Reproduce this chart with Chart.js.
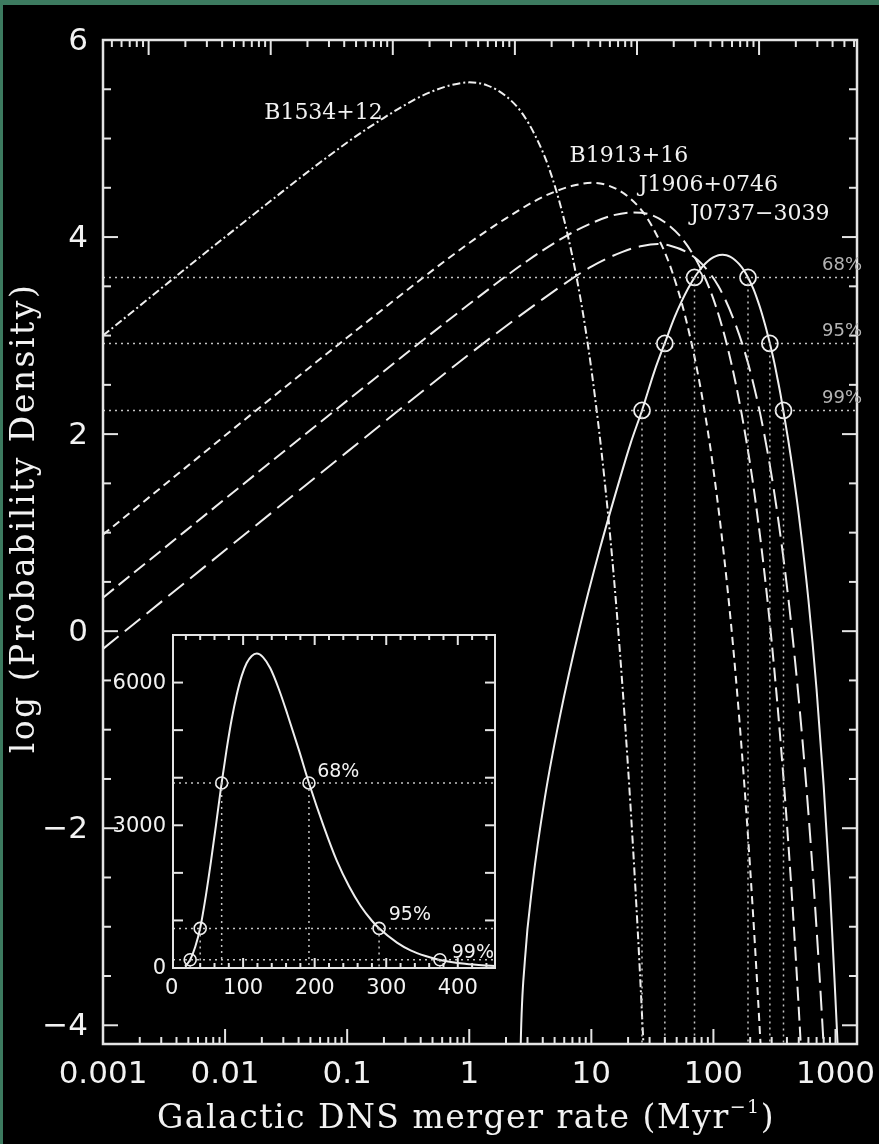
<!DOCTYPE html>
<html>
<head>
<meta charset="utf-8">
<script src="https://cdn.jsdelivr.net/npm/chart.js@4.4.0/dist/chart.umd.min.js"></script>
<style>
  html, body { margin: 0; padding: 0; background: #000; }
  #wrap { position: relative; width: 879px; height: 1144px; background: #000; overflow: hidden; }
  #main { position: absolute; left: 0; top: 0; }
  #inset { position: absolute; left: 100px; top: 620px; }
  .band-top { position: absolute; left: 0; top: 0; width: 879px; height: 5px; background: #3c7a5f; }
  .band-left { position: absolute; left: 0; top: 0; width: 3px; height: 1144px; background: #3c7a5f; }
</style>
</head>
<body>
<div id="wrap">
  <canvas id="main" width="879" height="1144"></canvas>
  <canvas id="inset" width="420" height="390"></canvas>
  <div class="band-top"></div>
  <div class="band-left"></div>
</div>
<script>
// axis limits
const X_MIN = 0.001, X_MAX = 1500;
const TOP_MIN = 0.000423, TOP_MAX = 634;   // top axis ticks sit offset in the original
const Y_MIN = -4.19, Y_MAX = 6.0;

const xTickLabels = ["0.001", "0.01", "0.1", "1", "10", "100", "1000"];
const xTickValues = [0.001, 0.01, 0.1, 1, 10, 100, 1000];
const yTickValues = [6, 4, 2, 0, -2, -4];

// per-pulsar rate distributions, log10 of probability density
const b1534Rate = [0.001, 0.01, 0.1, 0.2, 0.35, 0.5, 0.7, 1, 1.4, 2, 2.7, 3.5, 4.5, 6, 8, 10, 13, 16, 20, 24, 28];
const b1534Log  = [3.00, 4.00, 4.96, 5.21, 5.39, 5.48, 5.54, 5.57, 5.54, 5.43, 5.26, 5.02, 4.70, 4.17, 3.43, 2.66, 1.47, 0.26, -1.39, -3.04, -4.71];

const b1913Rate = [0.001, 0.1, 1, 2, 3.5, 5, 7, 10, 14, 20, 27, 35, 45, 60, 80, 100, 130, 160, 200, 240, 270];
const b1913Log  = [0.98, 2.98, 3.94, 4.19, 4.37, 4.46, 4.52, 4.55, 4.52, 4.41, 4.24, 4.00, 3.68, 3.15, 2.41, 1.64, 0.45, -0.77, -2.41, -4.06, -5.32];

const j1906Rate = [0.001, 0.1, 1, 3, 6, 10, 15, 22, 30, 40, 55, 75, 100, 130, 170, 220, 280, 350, 430, 500, 560];
const j1906Log  = [0.34, 2.34, 3.32, 3.76, 4.00, 4.14, 4.22, 4.25, 4.23, 4.15, 3.99, 3.73, 3.37, 2.89, 2.21, 1.34, 0.26, -1.03, -2.51, -3.83, -4.96];

const j0737Rate = [0.001, 0.1, 1, 4, 10, 18, 26, 35, 45, 60, 80, 110, 150, 200, 260, 330, 420, 520, 620, 720, 800, 860];
const j0737Log  = [-0.18, 1.82, 2.81, 3.37, 3.70, 3.85, 3.91, 3.93, 3.91, 3.85, 3.73, 3.50, 3.13, 2.64, 2.01, 1.24, 0.23, -0.92, -2.08, -3.26, -4.21, -4.92];

// combined distribution
const totalRate = [2.58, 2.64, 2.85, 3.31, 4.16, 5.52, 8.05, 11.75, 17.1, 21, 26, 33, 40, 48, 55, 62, 70, 77, 84, 91, 98, 105, 112, 119, 128, 138, 150, 162, 178, 192, 213, 231, 248, 264, 280, 290, 315, 334, 355, 375, 410, 452, 500, 600, 700, 800, 900, 1000, 1040, 1080];
const totalLog  = [-5.0, -4.19, -3.354, -2.552, -1.692, -0.870, 0.044, 0.836, 1.543, 1.909, 2.24, 2.645, 2.925, 3.184, 3.349, 3.477, 3.59, 3.663, 3.719, 3.759, 3.788, 3.807, 3.817, 3.82, 3.815, 3.799, 3.768, 3.727, 3.661, 3.59, 3.471, 3.352, 3.235, 3.117, 2.997, 2.921, 2.728, 2.57, 2.399, 2.226, 1.94, 1.592, 1.186, 0.319, -0.595, -1.568, -2.607, -3.744, -4.19, -4.65];

// confidence levels
const levelNames = ["68%", "95%", "99%"];
const levelLog   = [3.59, 2.92, 2.24];
const levelLow   = [70, 40, 26];
const levelHigh  = [192, 290, 375];

const pulsarNames = ["B1534+12", "B1913+16", "J1906+0746", "J0737\u22123039"];
const pulsarLabelRate = [0.064, 20.3, 91, 240];
const pulsarLabelLog  = [5.26, 4.82, 4.53, 4.23];

// inset: linear density
const insetRate = [19, 22, 26, 33, 40, 48, 55, 62, 70, 77, 84, 91, 98, 105, 112, 119, 128, 138, 150, 162, 178, 192, 213, 231, 248, 264, 280, 290, 315, 334, 355, 375, 410, 452];
const insetDensity = [45, 89, 174, 442, 840, 1528, 2234, 3000, 3890, 4600, 5230, 5740, 6140, 6410, 6560, 6610, 6530, 6300, 5860, 5330, 4580, 3890, 2960, 2250, 1718, 1310, 993, 834, 535, 372, 251, 168, 87, 40];
const insetLevel = [3890, 832, 174];
const insetXTicks = [0, 100, 200, 300, 400];
const insetYTicks = [0, 3000, 6000];
const insetLabelRate = [233, 333, 421];
const insetLabelDensity = [4110, 1110, 315];

const LINE = "#efefef";
const DOT = "#c4c4c4";

function pts(xs, ys) { return xs.map((x, i) => ({ x: x, y: ys[i] })); }

function curve(xs, ys, dash) {
  return {
    data: pts(xs, ys),
    borderColor: LINE,
    borderWidth: 2,
    borderDash: dash,
    pointRadius: 0,
    cubicInterpolationMode: "monotone",
    fill: false
  };
}

function dotted(data) {
  return { data: data, borderColor: DOT, borderWidth: 1.5, borderDash: [2, 4], pointRadius: 0, tension: 0 };
}

function seg(ctx, x1, y1, x2, y2) {
  ctx.beginPath(); ctx.moveTo(x1, y1); ctx.lineTo(x2, y2); ctx.stroke();
}

// main chart datasets
const mainSets = [];
levelLog.forEach((v, i) => {
  mainSets.push(dotted([{ x: X_MIN, y: v }, { x: X_MAX, y: v }]));
  mainSets.push(dotted([{ x: levelLow[i], y: v }, { x: levelLow[i], y: Y_MIN }]));
  mainSets.push(dotted([{ x: levelHigh[i], y: v }, { x: levelHigh[i], y: Y_MIN }]));
});
mainSets.push(curve(b1534Rate, b1534Log, [8, 3, 2, 3]));
mainSets.push(curve(b1913Rate, b1913Log, [8, 5]));
mainSets.push(curve(j1906Rate, j1906Log, [14, 6]));
mainSets.push(curve(j0737Rate, j0737Log, [20, 8]));
mainSets.push(curve(totalRate, totalLog, []));
mainSets.push({
  data: levelLog.flatMap((v, i) => [{ x: levelLow[i], y: v }, { x: levelHigh[i], y: v }]),
  showLine: false,
  pointRadius: 8,
  pointBorderWidth: 1.8,
  pointBorderColor: LINE,
  pointBackgroundColor: "rgba(0,0,0,0)"
});

const mainAxes = {
  id: "mainAxes",
  afterDraw(chart) {
    const { ctx, chartArea: a, scales } = chart;
    ctx.save();
    ctx.strokeStyle = "#e4e4e4";
    ctx.lineWidth = 2;
    // decade and minor ticks, bottom and top
    for (let d = -4; d <= 3; d++) {
      for (let k = 1; k <= 9; k++) {
        const v = k * Math.pow(10, d);
        const len = k === 1 ? 15 : 7;
        if (v >= scales.x.min && v <= scales.x.max) {
          const px = scales.x.getPixelForValue(v);
          seg(ctx, px, a.bottom, px, a.bottom - len);
        }
        if (v >= scales.xTop.min && v <= scales.xTop.max) {
          const px = scales.xTop.getPixelForValue(v);
          seg(ctx, px, a.top, px, a.top + len);
        }
      }
    }
    for (let v = -4; v <= 6; v += 0.5) {
      const py = scales.y.getPixelForValue(v);
      const len = v % 2 === 0 ? 15 : 8;
      seg(ctx, a.left, py, a.left + len, py);
      seg(ctx, a.right, py, a.right - len, py);
    }
    ctx.lineWidth = 2.5;
    ctx.strokeRect(a.left, a.top, a.right - a.left, a.bottom - a.top);

    // tick labels
    ctx.fillStyle = "#f2f2f2";
    ctx.font = "31px 'DejaVu Sans'";
    ctx.textAlign = "center";
    ctx.textBaseline = "middle";
    xTickValues.forEach((v, i) => {
      ctx.fillText(xTickLabels[i], scales.x.getPixelForValue(v), a.bottom + 31);
    });
    ctx.textAlign = "right";
    yTickValues.forEach(v => {
      const txt = v < 0 ? "\u2212" + Math.abs(v) : String(v);
      ctx.fillText(txt, a.left - 15, scales.y.getPixelForValue(v) + 2);
    });

    // axis titles
    ctx.textBaseline = "alphabetic";
    ctx.letterSpacing = "1.5px";
    const t1 = "Galactic DNS merger rate (Myr", t2 = "\u22121", t3 = ")";
    ctx.font = "33px 'DejaVu Serif'";
    const w1 = ctx.measureText(t1).width, w3 = ctx.measureText(t3).width;
    ctx.font = "19px 'DejaVu Serif'";
    const w2 = ctx.measureText(t2).width;
    const xs = 466 - (w1 + w2 + w3) / 2;
    const yb = 1128;
    ctx.textAlign = "left";
    ctx.font = "33px 'DejaVu Serif'";
    ctx.fillText(t1, xs, yb);
    ctx.font = "19px 'DejaVu Serif'";
    ctx.fillText(t2, xs + w1, yb - 15);
    ctx.font = "33px 'DejaVu Serif'";
    ctx.fillText(t3, xs + w1 + w2, yb);

    ctx.save();
    ctx.letterSpacing = "2.5px";
    ctx.translate(34, 518);
    ctx.rotate(-Math.PI / 2);
    ctx.textAlign = "center";
    ctx.fillText("log (Probability Density)", 0, 0);
    ctx.restore();
    ctx.letterSpacing = "0px";

    // curve names
    ctx.font = "22px 'DejaVu Serif'";
    ctx.textAlign = "center";
    ctx.textBaseline = "middle";
    pulsarNames.forEach((n, i) => {
      ctx.fillText(n, scales.x.getPixelForValue(pulsarLabelRate[i]), scales.y.getPixelForValue(pulsarLabelLog[i]));
    });

    // level names
    ctx.fillStyle = "#b4b4b4";
    ctx.font = "18px 'DejaVu Sans'";
    levelNames.forEach((n, i) => {
      ctx.fillText(n, scales.x.getPixelForValue(1130), scales.y.getPixelForValue(levelLog[i]) - 12);
    });
    ctx.restore();
  }
};

new Chart(document.getElementById("main"), {
  type: "line",
  data: { datasets: mainSets },
  options: {
    responsive: false,
    animation: false,
    events: [],
    layout: { padding: { left: 103, right: 22, top: 40, bottom: 100 } },
    plugins: { legend: { display: false }, tooltip: { enabled: false } },
    scales: {
      x: { type: "logarithmic", min: X_MIN, max: X_MAX, display: false },
      xTop: { type: "logarithmic", position: "top", min: TOP_MIN, max: TOP_MAX, display: false },
      y: { type: "linear", min: Y_MIN, max: Y_MAX, display: false }
    }
  },
  plugins: [mainAxes]
});

// inset chart
const insetSets = [];
insetLevel.forEach((v, i) => {
  insetSets.push(dotted([{ x: 2, y: v }, { x: 452, y: v }]));
  insetSets.push(dotted([{ x: levelLow[i], y: v }, { x: levelLow[i], y: 0 }]));
  insetSets.push(dotted([{ x: levelHigh[i], y: v }, { x: levelHigh[i], y: 0 }]));
});
insetSets.push(curve(insetRate, insetDensity, []));
insetSets.push({
  data: insetLevel.flatMap((v, i) => [{ x: levelLow[i], y: v }, { x: levelHigh[i], y: v }]),
  showLine: false,
  pointRadius: 6,
  pointBorderWidth: 1.6,
  pointBorderColor: LINE,
  pointBackgroundColor: "rgba(0,0,0,0)"
});

const insetAxes = {
  id: "insetAxes",
  beforeDatasetsDraw(chart) {
    const { ctx, chartArea: a } = chart;
    ctx.save();
    ctx.fillStyle = "#000";
    ctx.fillRect(a.left, a.top, a.right - a.left, a.bottom - a.top);
    ctx.restore();
  },
  afterDraw(chart) {
    const { ctx, chartArea: a, scales } = chart;
    ctx.save();
    ctx.strokeStyle = "#e4e4e4";
    ctx.lineWidth = 2;
    for (let v = 0; v <= 450; v += 20) {
      if (v <= scales.x.min || v >= scales.x.max) continue;
      const px = scales.x.getPixelForValue(v);
      const len = v % 100 === 0 ? 10 : 5;
      seg(ctx, px, a.bottom, px, a.bottom - len);
      seg(ctx, px, a.top, px, a.top + len);
    }
    for (let v = 1000; v < 7000; v += 1000) {
      const py = scales.y.getPixelForValue(v);
      seg(ctx, a.left, py, a.left + 10, py);
      seg(ctx, a.right, py, a.right - 10, py);
    }
    ctx.lineWidth = 2;
    ctx.strokeRect(a.left, a.top, a.right - a.left, a.bottom - a.top);

    ctx.fillStyle = "#f2f2f2";
    ctx.font = "21px 'DejaVu Sans'";
    ctx.textAlign = "center";
    ctx.textBaseline = "middle";
    insetXTicks.forEach(v => ctx.fillText(String(v), scales.x.getPixelForValue(v), a.bottom + 21));
    ctx.textAlign = "right";
    insetYTicks.forEach(v => ctx.fillText(String(v), a.left - 7, scales.y.getPixelForValue(v) + 1));

    ctx.font = "19px 'DejaVu Sans'";
    ctx.textAlign = "center";
    levelNames.forEach((n, i) => {
      ctx.fillText(n, scales.x.getPixelForValue(insetLabelRate[i]), scales.y.getPixelForValue(insetLabelDensity[i]));
    });
    ctx.restore();
  }
};

new Chart(document.getElementById("inset"), {
  type: "line",
  data: { datasets: insetSets },
  options: {
    responsive: false,
    animation: false,
    events: [],
    layout: { padding: { left: 73, right: 25, top: 15, bottom: 42 } },
    plugins: { legend: { display: false }, tooltip: { enabled: false } },
    scales: {
      x: { type: "linear", min: 2, max: 452, display: false },
      y: { type: "linear", min: 0, max: 7000, display: false }
    }
  },
  plugins: [insetAxes]
});
</script>
</body>
</html>
